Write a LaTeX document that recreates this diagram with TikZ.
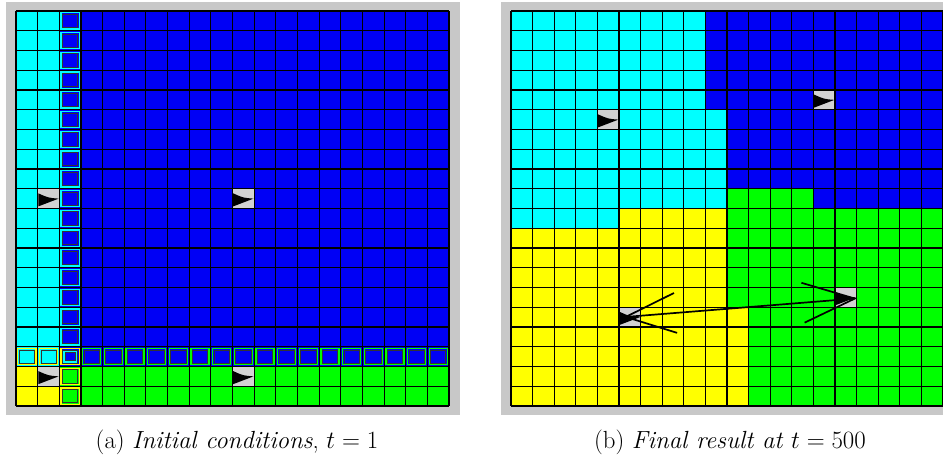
\documentclass[tikz,border=0pt]{standalone}
\usetikzlibrary{arrows.meta}
\definecolor{simcyan}{RGB}{0,255,255}
\definecolor{simblue}{RGB}{0,0,245}
\definecolor{simgreen}{RGB}{0,255,0}
\definecolor{simyellow}{RGB}{255,255,0}
\definecolor{framegray}{RGB}{200,200,200}
\definecolor{agentgray}{RGB}{210,210,210}
\tikzset{
  gridline/.style={black,line width=1.1pt},
  edgering/.style={draw=#1,line width=1.3pt},
  innerring/.style={draw=black!80,line width=0.7pt},
  agent/.style={rectangle,fill=agentgray,inner sep=0pt,minimum width=20.4pt,minimum height=18.6pt,
    path picture={\fill[black] ([yshift=-4pt]path picture bounding box.north west)
      .. controls ([xshift=10pt,yshift=-8.5pt]path picture bounding box.north west) .. (path picture bounding box.east)
      .. controls ([xshift=10pt,yshift=6pt]path picture bounding box.south west) .. ([yshift=1.5pt]path picture bounding box.south west) -- cycle;}},
  link/.style={black,line width=1.7pt,{Straight Barb[length=50pt,width=40pt]}-{Straight Barb[length=52pt,width=40pt]}},
  caption/.style={anchor=base,font=\fontsize{24.8}{30}\selectfont}
}
\begin{document}
\begin{tikzpicture}[x=1pt,y=-1pt]
  \useasboundingbox (0,0) rectangle (943,457);
  \clip (0,0) rectangle (943,457);
  \fill[framegray] (6,2) rectangle (460,415);
  \fill[framegray] (501,2) rectangle (965,415);
  % initial conditions
  \begin{scope}[shift={(16,11)},x=21.65pt,y=-19.75pt]
    \fill[simblue] (0,0) rectangle (20,18);
    \fill[simcyan] (0,0) rectangle (2,18);
    \fill[simyellow] (0,18) rectangle (2,20);
    \fill[simgreen] (2,18) rectangle (20,20);
    \foreach \i in {0,...,20} {
      \draw[gridline] (\i,0) -- (\i,20);
      \draw[gridline] (0,\i) -- (20,\i);
    }
    % cells on the region borders
    \foreach \c/\r/\col in {0/17/simyellow, 1/17/simyellow, 2/17/simyellow, 2/18/simyellow, 2/19/simyellow} {
      \draw[edgering=\col] ([xshift=1.8pt,yshift=-1.8pt]\c,\r) rectangle ([xshift=-1.8pt,yshift=1.8pt]\c+1,\r+1);
      \draw[innerring] ([xshift=3.2pt,yshift=-3.2pt]\c,\r) rectangle ([xshift=-3.2pt,yshift=3.2pt]\c+1,\r+1);
    }
    \foreach \r in {0,...,16} {
      \draw[edgering=simcyan] ([xshift=1.8pt,yshift=-1.8pt]2,\r) rectangle ([xshift=-1.8pt,yshift=1.8pt]3,\r+1);
      \draw[innerring] ([xshift=3.2pt,yshift=-3.2pt]2,\r) rectangle ([xshift=-3.2pt,yshift=3.2pt]3,\r+1);
    }
    \foreach \c in {3,...,19} {
      \draw[edgering=simgreen] ([xshift=1.8pt,yshift=-1.8pt]\c,17) rectangle ([xshift=-1.8pt,yshift=1.8pt]\c+1,18);
      \draw[innerring] ([xshift=3.2pt,yshift=-3.2pt]\c,17) rectangle ([xshift=-3.2pt,yshift=3.2pt]\c+1,18);
    }
    \draw[edgering=simcyan] ([xshift=4.6pt,yshift=-4.6pt]2,17) rectangle ([xshift=-4.6pt,yshift=4.6pt]3,18);
    \draw[innerring] ([xshift=6pt,yshift=-6pt]2,17) rectangle ([xshift=-6pt,yshift=6pt]3,18);
    \node[agent] (la1) at (1.5,9.5) {};
    \node[agent] (la2) at (10.5,9.5) {};
    \node[agent] (la3) at (1.5,18.5) {};
    \node[agent] (la4) at (10.5,18.5) {};
  \end{scope}
  % final result
  \begin{scope}[shift={(511,11)},x=21.6pt,y=-19.75pt]
    \fill[simblue] (0,0) rectangle (20,20);
    \fill[simcyan] (0,0) rectangle (9,10) (9,5) rectangle (10,10) (0,10) rectangle (5,11);
    \fill[simyellow] (5,10) rectangle (10,11) (0,11) rectangle (10,20) (10,15) rectangle (11,20);
    \fill[simgreen] (10,9) rectangle (14,10) (10,10) rectangle (20,15) (11,15) rectangle (20,20);
    \foreach \i in {0,...,20} {
      \draw[gridline] (\i,0) -- (\i,20);
      \draw[gridline] (0,\i) -- (20,\i);
    }
    \node[agent] (ra1) at (4.5,5.5) {};
    \node[agent] (ra2) at (14.5,4.5) {};
    \node[agent] (ra3) at (5.5,15.5) {};
    \node[agent] (ra4) at (15.5,14.5) {};
  \end{scope}
  \draw[link] ([xshift=4pt]ra3.west) -- ([xshift=1pt,yshift=-1pt]ra4.east);
  \node[caption] (capa) at (237,448) {(a) \textit{Initial conditions}, $t=1$};
  \node[caption] (capb) at (730,448) {(b) \textit{Final result at} $t=500$};
\end{tikzpicture}
\end{document}
